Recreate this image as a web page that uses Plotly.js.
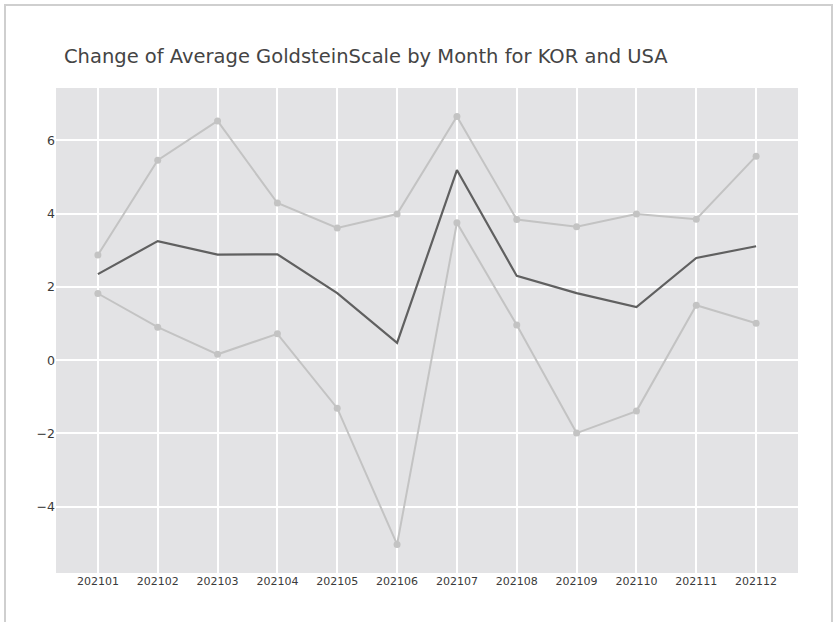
<!DOCTYPE html>
<html>
<head>
<meta charset="utf-8">
<script src="https://cdn.plot.ly/plotly-3.0.1.min.js"></script>
<style>
html,body{margin:0;padding:0;background:#fff;}
#wrap{position:relative;width:837px;height:622px;}
#frame{position:absolute;left:4px;top:4px;width:829px;height:618px;border-left:2px solid #cfcfcf;border-top:2px solid #cfcfcf;border-right:2px solid #cfcfcf;box-sizing:border-box;pointer-events:none;z-index:10;}
#chart{position:absolute;left:0;top:0;width:837px;height:622px;}
</style>
</head>
<body>
<div id="wrap"><div id="chart"></div><div id="frame"></div></div>
<script>
var months = ["202101","202102","202103","202104","202105","202106","202107","202108","202109","202110","202111","202112"];
var upperSeries = [2.87, 5.46, 6.53, 4.29, 3.61, 3.99, 6.65, 3.84, 3.64, 3.99, 3.85, 5.57];
var lowerSeries = [1.82, 0.90, 0.16, 0.72, -1.31, -5.03, 3.75, 0.96, -1.99, -1.39, 1.50, 1.01];
var averageSeries = [2.35, 3.25, 2.88, 2.89, 1.83, 0.47, 5.19, 2.30, 1.83, 1.45, 2.79, 3.11];

var light = '#c3c3c3';
var traces = [
  {x: months, y: upperSeries, type: 'scatter', mode: 'lines+markers', name: 'upper',
   line: {color: light, width: 2}, marker: {color: light, size: 7}},
  {x: months, y: lowerSeries, type: 'scatter', mode: 'lines+markers', name: 'lower',
   line: {color: light, width: 2}, marker: {color: light, size: 7}},
  {x: months, y: averageSeries, type: 'scatter', mode: 'lines', name: 'average',
   line: {color: '#606060', width: 2.2}}
];

var layout = {
  width: 837, height: 622,
  margin: {l: 56, r: 39, t: 88, b: 49},
  paper_bgcolor: '#ffffff',
  plot_bgcolor: '#e3e3e5',
  showlegend: false,
  font: {family: 'DejaVu Sans, Verdana, sans-serif', color: '#444'},
  title: {text: 'Change of Average GoldsteinScale by Month for KOR and USA',
          x: 64/837, xref: 'container', xanchor: 'left',
          y: 1 - 56/622, yref: 'container', yanchor: 'middle',
          font: {family: 'DejaVu Sans, Verdana, sans-serif', size: 19.5, color: '#444'}},
  xaxis: {type: 'category', range: [-0.7, 11.7], showgrid: true, gridcolor: '#ffffff', gridwidth: 2,
          zeroline: false, tickfont: {size: 11, color: '#3a3a3a'}, ticks: '', ticklen: 0},
  yaxis: {range: [-5.81, 7.43], dtick: 2, showgrid: true, gridcolor: '#ffffff', gridwidth: 2,
          zeroline: true, zerolinecolor: '#ffffff', zerolinewidth: 2.5,
          tickfont: {size: 12.5, color: '#3a3a3a'}}
};

Plotly.newPlot('chart', traces, layout, {displayModeBar: false, staticPlot: true});
</script>
</body>
</html>
